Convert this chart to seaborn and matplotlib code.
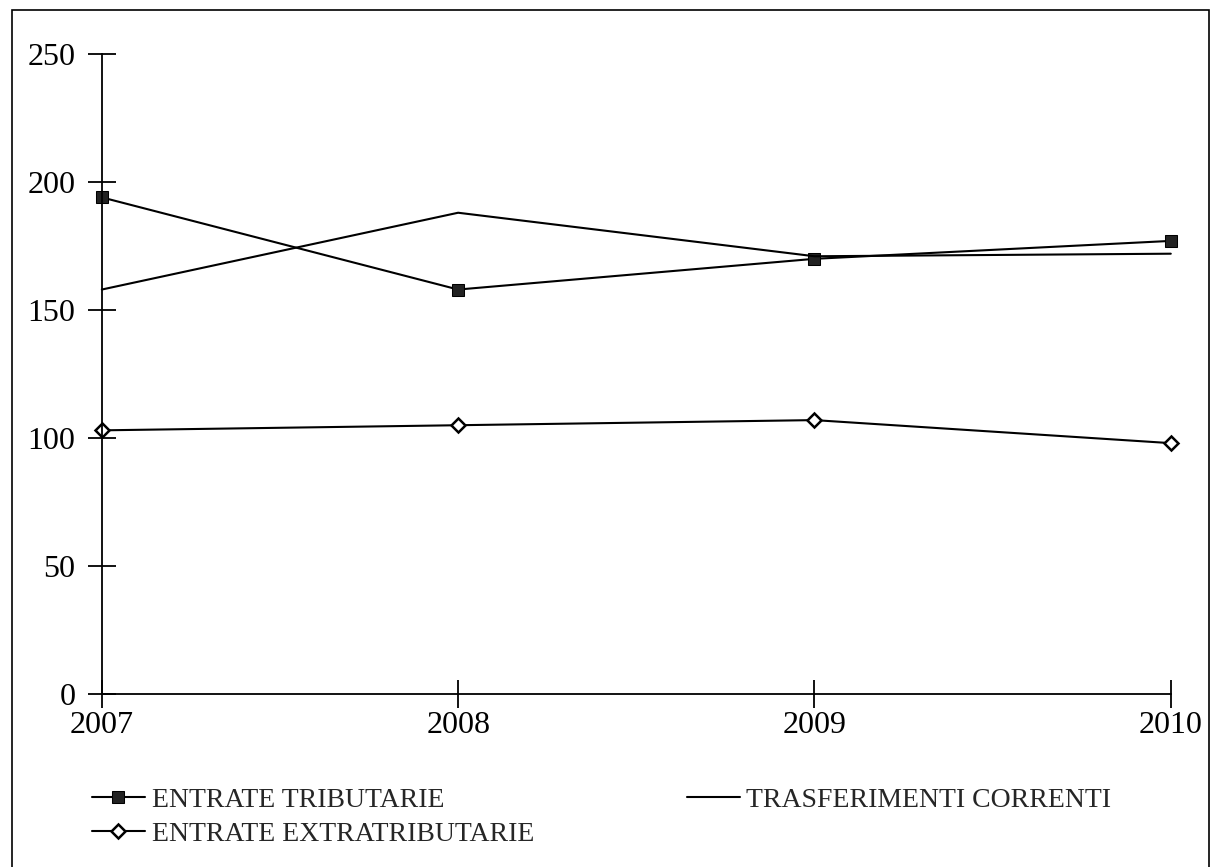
import numpy as np
import pandas as pd
import matplotlib
matplotlib.use("Agg")
import matplotlib.pyplot as plt
import seaborn as sns

# data
years = [2007, 2008, 2009, 2010]
entrate_tributarie = [194, 158, 170, 177]
trasferimenti_correnti = [158, 188, 171, 172]
entrate_extratributarie = [103, 105, 107, 98]

sns.set_style("white")
plt.rcParams['font.family'] = ['Liberation Serif', 'DejaVu Serif']

fig = plt.figure(figsize=(12.12, 8.67), dpi=100)
ax = fig.add_axes([0.084, 0.1995, 0.882, 0.7382])

line_kw = dict(color='black', linewidth=1.5, clip_on=False)
sns.lineplot(x=years, y=entrate_tributarie, ax=ax, marker='s', markersize=9,
             markerfacecolor='#222222', markeredgecolor='black',
             label='ENTRATE TRIBUTARIE', **line_kw)
sns.lineplot(x=years, y=entrate_extratributarie, ax=ax, marker='D', markersize=7.5,
             markerfacecolor='white', markeredgecolor='black', markeredgewidth=1.8,
             label='ENTRATE EXTRATRIBUTARIE', **line_kw)
sns.lineplot(x=years, y=trasferimenti_correnti, ax=ax,
             label='TRASFERIMENTI CORRENTI', **line_kw)

ax.set_xlim(2007, 2010)
ax.set_ylim(0, 250)
ax.set_xticks(years)
ax.set_xticklabels([str(y) for y in years])
ax.set_yticks(np.arange(0, 251, 50))

for side in ['top', 'right']:
    ax.spines[side].set_visible(False)
for side in ['left', 'bottom']:
    ax.spines[side].set_color('black')
    ax.spines[side].set_linewidth(1.3)

ax.tick_params(axis='both', direction='inout', length=20, width=1.3,
               bottom=True, left=True, color='black', labelsize=23,
               labelcolor='black', pad=2)
ax.tick_params(axis='y', pad=9)

ax.legend(ncol=2, loc='upper left', bbox_to_anchor=(-0.0093, -0.146),
          frameon=False, fontsize=20, handlelength=1.9, handletextpad=0.25,
          columnspacing=5.5, labelspacing=0.3, borderaxespad=0, borderpad=0)

# outer frame of the scanned figure
fig.patches.append(plt.Rectangle((12 / 1212, -0.01), 1197 / 1212, 1 - 10 / 867 + 0.01,
                                 transform=fig.transFigure, fill=False,
                                 edgecolor='black', linewidth=1.2))

fig.savefig('out.png', dpi=100)
